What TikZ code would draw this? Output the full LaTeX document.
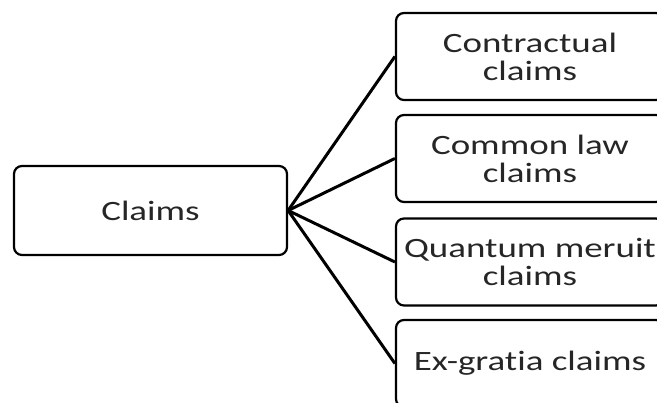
\documentclass[tikz,border=0pt]{standalone}
\usepackage{fontspec}
\setmainfont{Carlito}[FakeStretch=1.32, Ligatures=NoCommon]
\usepackage{tikz}

\tikzset{
  box/.style={draw, line width=2.2pt, rounded corners=8pt, align=center,
    minimum width=268pt, minimum height=87pt, text=black!85,
    font=\fontsize{28}{28}\selectfont},
  link/.style={line width=3pt}
}

\begin{document}
\begin{tikzpicture}[x=1pt,y=1pt]
  \useasboundingbox (0,0) rectangle (657,403);
  \clip (0,0) rectangle (657,403);

\node[box, minimum width=273pt, minimum height=89pt] (claims) at (150.5,192.5) {Claims};

\node[box] (contract) at (530,346.5) {Contractual\\claims};
\node[box] (common) at (530,244.5) {Common law\\claims};
\node[box] (quantum) at (530,141) {Quantum meruit\\claims};
\node[box] (exgratia) at (530,39.5) {Ex-gratia claims};

\draw[link] (claims.east) -- (contract.west);
\draw[link] (claims.east) -- (common.west);
\draw[link] (claims.east) -- (quantum.west);
\draw[link] (claims.east) -- (exgratia.west);

\end{tikzpicture}
\end{document}
